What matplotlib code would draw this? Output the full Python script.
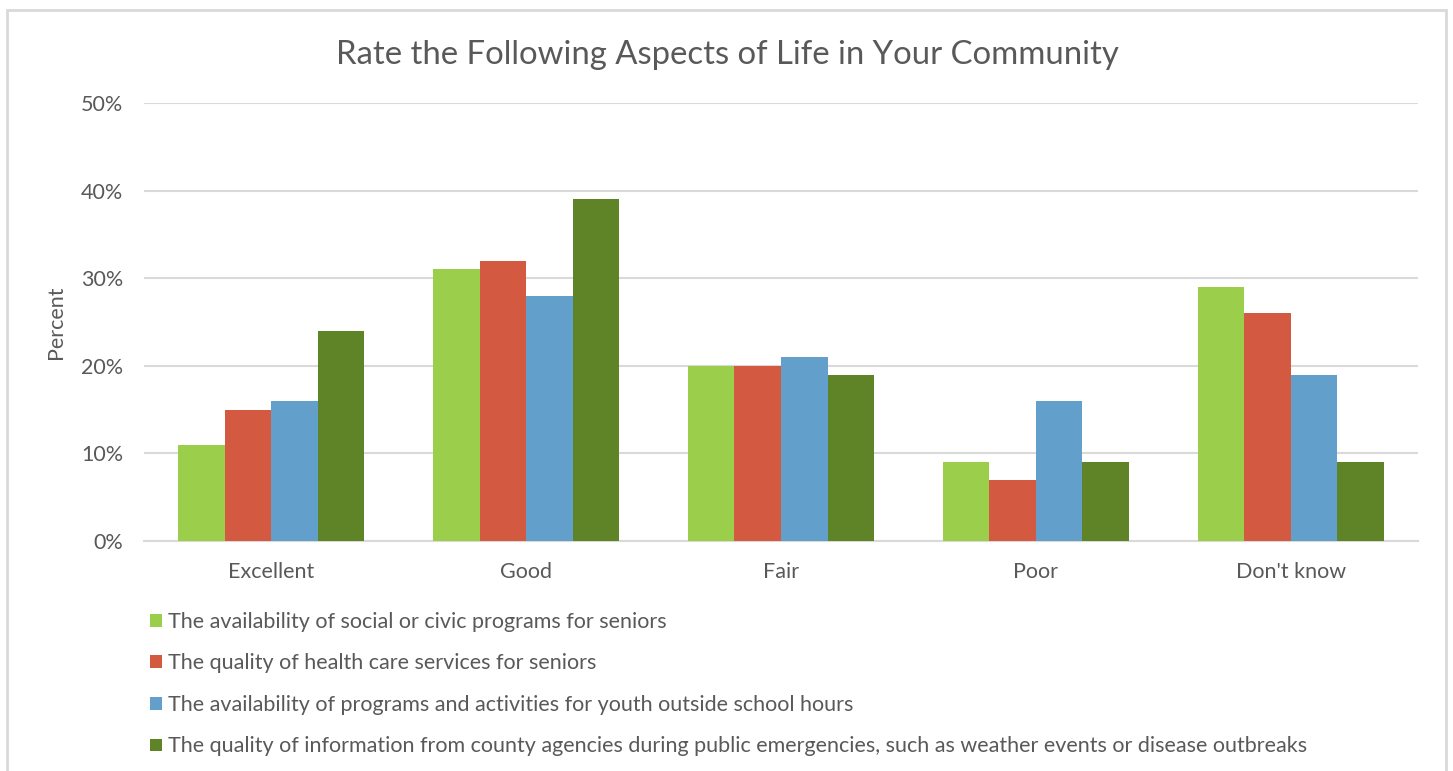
import matplotlib
matplotlib.use("Agg")
import matplotlib.pyplot as plt
import numpy as np
from matplotlib.patches import Rectangle

plt.rcParams['font.family'] = ['Lato', 'DejaVu Sans']

categories = ["Excellent", "Good", "Fair", "Poor", "Don't know"]
series_names = [
    "The availability of social or civic programs for seniors",
    "The quality of health care services for seniors",
    "The availability of programs and activities for youth outside school hours",
    "The quality of information from county agencies during public emergencies, such as weather events or disease outbreaks",
]
seniors_programs = [11, 31, 20, 9, 29]
seniors_health = [15, 32, 20, 7, 26]
youth_programs = [16, 28, 21, 16, 19]
emergency_info = [24, 39, 19, 9, 9]
series_values = [seniors_programs, seniors_health, youth_programs, emergency_info]
colors = ["#9BCF4B", "#D35940", "#62A0CB", "#5E8427"]
yticks = [0, 10, 20, 30, 40, 50]
ytick_labels = ["0%", "10%", "20%", "30%", "40%", "50%"]

W, H = 1453, 771
fig = plt.figure(figsize=(W / 100, H / 100), dpi=100)
text_color = "#595959"

# chart border
fig.patches.append(Rectangle((7 / W, -0.05), (1446 - 7) / W, 1.05 - 10 / H,
                             transform=fig.transFigure, fill=False,
                             edgecolor="#D9D9D9", linewidth=2, zorder=0))

ax = fig.add_axes([144 / W, 1 - 541 / H, (1418 - 144) / W, (541 - 103) / H])
x = np.arange(len(categories))
bw = 0.1825
for i, (vals, c, name) in enumerate(zip(series_values, colors, series_names)):
    ax.bar(x + (i - 1.5) * bw, vals, width=bw, color=c, label=name, zorder=3)

ax.set_xlim(-0.5, len(categories) - 0.5)
ax.set_ylim(0, 50)
ax.set_yticks(yticks)
ax.set_yticklabels(ytick_labels)
ax.set_xticks(x)
ax.set_xticklabels(categories)
ax.tick_params(axis='both', length=0, labelsize=15.5, colors=text_color)
ax.tick_params(axis='y', pad=15)
ax.tick_params(axis='x', pad=15)
ax.grid(axis='y', color="#D9D9D9", linewidth=1.5, zorder=0)
ax.set_axisbelow(True)
for s in ["top", "right", "left"]:
    ax.spines[s].set_visible(False)
ax.spines["bottom"].set_color("#D9D9D9")
ax.spines["bottom"].set_linewidth(1.5)

fig.text(727 / W, 1 - 55 / H, "Rate the Following Aspects of Life in Your Community",
         ha="center", va="center", fontsize=23.7, color=text_color)
fig.text(56 / W, 1 - 322 / H, "Percent", rotation=90, ha="center", va="center",
         fontsize=15.5, color=text_color)

handles, labels = ax.get_legend_handles_labels()
leg = fig.legend(handles, labels, loc="upper left",
                 bbox_to_anchor=(131 / W, 1 - 592.5 / H), frameon=False,
                 fontsize=15.5, labelcolor=text_color, handlelength=0.52,
                 handleheight=0.52, handletextpad=0.3, labelspacing=1.0)

fig.savefig("out.png", dpi=100)
